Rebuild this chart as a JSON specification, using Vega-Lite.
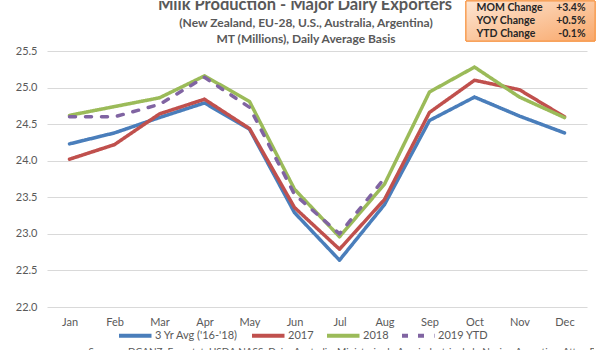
{
  "$schema": "https://vega.github.io/schema/vega-lite/v6.json",
  "padding": 0,
  "spacing": 0,
  "background": "white",
  "config": {
    "view": {"stroke": null},
    "font": "Lato",
    "concat": {"spacing": 0}
  },
  "resolve": {"legend": {"color": "independent", "strokeDash": "independent"}},
  "vconcat": [
    {
      "spacing": 0,
      "hconcat": [
        {
          "width": 418,
          "height": 44,
          "data": {"values": [
            {"line": 1, "text": "Milk Production - Major Dairy Exporters"},
            {"line": 2, "text": "(New Zealand, EU-28, U.S., Australia, Argentina)"},
            {"line": 3, "text": "MT (Millions), Daily Average Basis"}
          ]},
          "layer": [
            {
              "transform": [{"filter": "datum.line == 1"}],
              "mark": {"type": "text", "font": "Lato", "fontSize": 16.5, "fontWeight": "bold", "color": "#595959", "baseline": "alphabetic", "dx": 49, "clip": true},
              "encoding": {
                "y": {"field": "line", "type": "quantitative", "scale": {"domain": [1, 3], "range": [9, 42]}, "axis": null},
                "text": {"field": "text"}
              }
            },
            {
              "transform": [{"filter": "datum.line > 1"}],
              "mark": {"type": "text", "font": "Lato", "fontSize": 12, "fontWeight": "bold", "color": "#595959", "baseline": "alphabetic", "dx": 50, "clip": true},
              "encoding": {
                "y": {"field": "line", "type": "quantitative", "scale": {"domain": [1, 3], "range": [9, 42]}, "axis": null},
                "text": {"field": "text"}
              }
            }
          ]
        },
        {
          "width": 129,
          "height": 40,
          "data": {"values": [
            {"metric": "MOM Change", "change": "+3.4%"},
            {"metric": "YOY Change", "change": "+0.5%"},
            {"metric": "YTD Change", "change": "-0.1%"}
          ]},
          "layer": [
            {
              "mark": {"type": "rect", "fill": {"gradient": "linear", "x1": 0, "y1": 0, "x2": 1, "y2": 1, "stops": [{"offset": 0, "color": "#fde6d3"}, {"offset": 1, "color": "#f9a86b"}]}, "stroke": "#f79646", "strokeWidth": 1},
              "encoding": {}
            },
            {
              "mark": {"type": "text", "align": "left", "dx": -54, "font": "Lato", "fontSize": 10.5, "fontWeight": "bold", "color": "#262626"},
              "encoding": {
                "y": {"field": "metric", "type": "nominal", "sort": null, "scale": {"paddingInner": 0, "paddingOuter": 0}, "axis": null},
                "text": {"field": "metric"}
              }
            },
            {
              "mark": {"type": "text", "align": "right", "dx": 55, "font": "Lato", "fontSize": 10.5, "fontWeight": "bold", "color": "#262626"},
              "encoding": {
                "y": {"field": "metric", "type": "nominal", "sort": null, "scale": {"paddingInner": 0, "paddingOuter": 0}, "axis": null},
                "text": {"field": "change"}
              }
            }
          ]
        }
      ]
    },
    {
      "width": 540,
      "height": 256,
      "data": {"values": [
        {"series": "3 Yr Avg ('16-'18)", "month": "Jan", "value": 24.23},
        {"series": "3 Yr Avg ('16-'18)", "month": "Feb", "value": 24.38},
        {"series": "3 Yr Avg ('16-'18)", "month": "Mar", "value": 24.59},
        {"series": "3 Yr Avg ('16-'18)", "month": "Apr", "value": 24.79},
        {"series": "3 Yr Avg ('16-'18)", "month": "May", "value": 24.43},
        {"series": "3 Yr Avg ('16-'18)", "month": "Jun", "value": 23.29},
        {"series": "3 Yr Avg ('16-'18)", "month": "Jul", "value": 22.64},
        {"series": "3 Yr Avg ('16-'18)", "month": "Aug", "value": 23.40},
        {"series": "3 Yr Avg ('16-'18)", "month": "Sep", "value": 24.55},
        {"series": "3 Yr Avg ('16-'18)", "month": "Oct", "value": 24.87},
        {"series": "3 Yr Avg ('16-'18)", "month": "Nov", "value": 24.61},
        {"series": "3 Yr Avg ('16-'18)", "month": "Dec", "value": 24.38},
        {"series": "2017", "month": "Jan", "value": 24.02},
        {"series": "2017", "month": "Feb", "value": 24.22},
        {"series": "2017", "month": "Mar", "value": 24.64},
        {"series": "2017", "month": "Apr", "value": 24.84},
        {"series": "2017", "month": "May", "value": 24.44},
        {"series": "2017", "month": "Jun", "value": 23.36},
        {"series": "2017", "month": "Jul", "value": 22.79},
        {"series": "2017", "month": "Aug", "value": 23.47},
        {"series": "2017", "month": "Sep", "value": 24.66},
        {"series": "2017", "month": "Oct", "value": 25.10},
        {"series": "2017", "month": "Nov", "value": 24.97},
        {"series": "2017", "month": "Dec", "value": 24.60},
        {"series": "2018", "month": "Jan", "value": 24.62},
        {"series": "2018", "month": "Feb", "value": 24.74},
        {"series": "2018", "month": "Mar", "value": 24.86},
        {"series": "2018", "month": "Apr", "value": 25.16},
        {"series": "2018", "month": "May", "value": 24.81},
        {"series": "2018", "month": "Jun", "value": 23.61},
        {"series": "2018", "month": "Jul", "value": 22.96},
        {"series": "2018", "month": "Aug", "value": 23.68},
        {"series": "2018", "month": "Sep", "value": 24.94},
        {"series": "2018", "month": "Oct", "value": 25.28},
        {"series": "2018", "month": "Nov", "value": 24.87},
        {"series": "2018", "month": "Dec", "value": 24.59},
        {"series": "2019 YTD", "month": "Jan", "value": 24.60},
        {"series": "2019 YTD", "month": "Feb", "value": 24.60},
        {"series": "2019 YTD", "month": "Mar", "value": 24.77},
        {"series": "2019 YTD", "month": "Apr", "value": 25.14},
        {"series": "2019 YTD", "month": "May", "value": 24.73},
        {"series": "2019 YTD", "month": "Jun", "value": 23.54},
        {"series": "2019 YTD", "month": "Jul", "value": 23.00},
        {"series": "2019 YTD", "month": "Aug", "value": 23.76}
      ]},
      "mark": {"type": "line", "strokeJoin": "round", "strokeCap": "round"},
      "encoding": {
        "x": {
          "field": "month", "type": "ordinal",
          "sort": ["Jan", "Feb", "Mar", "Apr", "May", "Jun", "Jul", "Aug", "Sep", "Oct", "Nov", "Dec"],
          "axis": {"title": null, "labelAngle": 0, "ticks": false, "domain": false, "labelPadding": 9, "labelColor": "#595959", "labelFontSize": 11, "labelFont": "Lato"}
        },
        "y": {
          "field": "value", "type": "quantitative",
          "scale": {"domain": [22, 25.5], "zero": false},
          "axis": {"title": null, "values": [22, 22.5, 23, 23.5, 24, 24.5, 25, 25.5], "format": ".1f", "ticks": false, "domain": false, "gridColor": "#d9d9d9", "gridWidth": 1, "labelPadding": 10, "minExtent": 47, "labelColor": "#595959", "labelFontSize": 11, "labelFont": "Lato"}
        },
        "color": {
          "field": "series", "type": "nominal",
          "scale": {"domain": ["3 Yr Avg ('16-'18)", "2017", "2018", "2019 YTD"], "range": ["#4a7ebb", "#c0504d", "#9bbb59", "#8064a2"]},
          "legend": {"orient": "none", "legendX": 70, "legendY": 276, "direction": "horizontal", "title": null, "symbolType": "M-1,0H4", "symbolSize": 169, "symbolStrokeWidth": 4, "labelFontSize": 11, "labelColor": "#595959", "labelFont": "Lato", "columnPadding": 5, "labelOffset": 21, "padding": 0}
        },
        "strokeDash": {
          "field": "series", "type": "nominal",
          "scale": {"domain": ["3 Yr Avg ('16-'18)", "2017", "2018", "2019 YTD"], "range": [[1, 0], [1, 0], [1, 0], [6, 10]]},
          "legend": {"orient": "none", "legendX": 70, "legendY": 276, "direction": "horizontal", "title": null, "symbolType": "M-1,0H4", "symbolSize": 169, "symbolStrokeWidth": 4, "labelFontSize": 11, "labelColor": "#595959", "labelFont": "Lato", "columnPadding": 5, "labelOffset": 21, "padding": 0}
        },
        "strokeWidth": {
          "field": "series", "type": "nominal",
          "scale": {"domain": ["3 Yr Avg ('16-'18)", "2017", "2018", "2019 YTD"], "range": [3.5, 3.5, 3.5, 4.5]},
          "legend": null
        }
      }
    },
    {
      "width": 547,
      "height": 10,
      "data": {"values": [{"text": "Sources: DCANZ, Eurostat, USDA NASS, Dairy Australia, Ministerio de Agroindustria de la Nacion Argentina, Atten Babler Commodities LLC"}]},
      "mark": {"type": "text", "align": "left", "baseline": "middle", "dx": -232, "dy": 3, "font": "Lato", "fontSize": 10, "color": "#595959", "clip": true},
      "encoding": {"text": {"field": "text"}}
    }
  ]
}
